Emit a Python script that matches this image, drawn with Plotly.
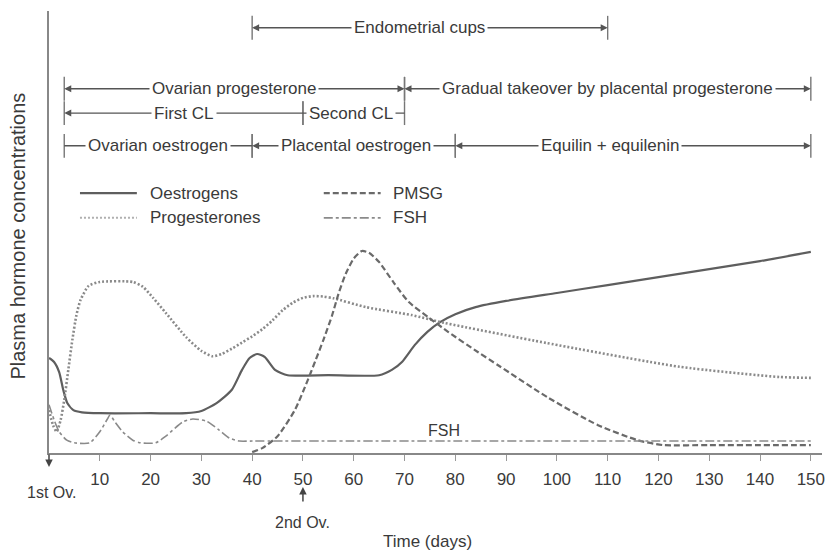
import plotly.graph_objects as go

# ---------------- data (arbitrary concentration units 0-100) ----------------
oest_days = [0, 1, 2, 2.8, 3.6, 4.8, 6.5, 10, 20, 27, 30, 33, 36, 38, 39.5, 41, 42.5, 44.5, 47,
             55, 65, 67.5, 69.5, 72, 74.5, 77, 80, 84, 90, 100, 110, 120, 130, 140, 150]
oest_vals = [21.5, 20.6, 18.3, 14.3, 11.3, 9.7, 9.2, 9.0, 9.0, 9.0, 9.5, 11.3, 14.3, 18.8, 21.5, 22.4,
             21.7, 18.8, 17.6, 17.6, 17.6, 18.8, 20.6, 24.4, 27.4, 29.6, 31.4, 33.0, 34.4, 36.2,
             38.0, 39.8, 41.6, 43.4, 45.5]

prog_days = [0, 0.8, 1.5, 2.3, 3.0, 3.8, 4.6, 5.4, 6.2, 7.8, 10, 16.5, 18.5, 20.5, 23, 27, 30, 32.2,
             34, 36, 38, 40, 42, 44, 46, 48, 50, 52, 54, 56, 62.4, 71.4, 78, 97.9, 124.2, 143.8, 150]
prog_vals = [9.7, 6.3, 4.8, 7.5, 12.0, 18.8, 25.6, 31.2, 34.6, 37.8, 38.7, 38.7, 37.6, 35.1, 31.7,
             26.2, 23.1, 21.9, 22.4, 23.6, 25.0, 26.4, 28.0, 30.0, 32.3, 34.0, 35.1, 35.5, 35.4,
             35.0, 33.0, 31.2, 29.4, 24.9, 19.5, 17.2, 17.0]

pmsg_days = [40, 42, 45, 48.4, 50.6, 52.5, 54, 55.7, 57, 58.4, 60, 61.6, 63, 65, 67.9, 70.8, 74.7,
             78.7, 84.5, 88.5, 98.3, 108.1, 115.9, 120.8, 130, 150]
pmsg_vals = [0.2, 1.1, 3.8, 9.7, 15.5, 21.0, 25.5, 31.0, 36.0, 40.5, 44.0, 45.7, 45.3, 43.2, 38.5,
             34.2, 30.7, 27.3, 22.8, 19.8, 12.5, 6.3, 2.9, 1.8, 1.8, 1.8]

fsh_days = [0, 1, 2, 3.5, 5, 8, 10, 11.5, 12, 13, 14.5, 16.5, 18, 21, 23, 26.3, 28.3, 31, 33.5,
            35.5, 37.5, 40, 150]
fsh_vals = [10.9, 7.5, 4.8, 2.9, 2.3, 2.3, 4.8, 7.7, 8.6, 7.0, 4.8, 2.9, 2.3, 2.3, 3.8, 7.0, 7.7,
            7.2, 5.2, 3.4, 2.7, 2.7, 2.7]

x_tick_vals = [10, 20, 30, 40, 50, 60, 70, 80, 90, 100, 110, 120, 130, 140, 150]
x_tick_text = [str(v) for v in x_tick_vals]

# phase spans above the curves
span_labels = ["Endometrial cups", "Ovarian progesterone", "Gradual takeover by placental progesterone",
               "First CL", "Second CL", "Ovarian oestrogen", "Placental oestrogen", "Equilin + equilenin"]
span_start = [40, 3, 70, 3, 50, 3, 40, 80]
span_end = [110, 70, 150, 50, 70, 40, 80, 150]
span_text_x = [73, 36.5, 110, 26.5, 59.5, 21.5, 60.5, 110.5]
span_row = [0, 1, 1, 2, 2, 3, 3, 3]
span_left_head = [True, True, True, True, False, False, True, True]
span_right_head = [True, True, True, False, False, False, False, True]

# ovulation markers
ov_labels = ["1st Ov.", "2nd Ov."]
ov_days = [0, 50]

# ---------------- styling ----------------
FONT = "Liberation Sans, Arial, sans-serif"
TXT = "#3a3a3a"
row_y = [96.2, 82.4, 76.9, 69.5]  # vertical positions of the span rows (y units)
tick_half = 2.7
PLOT_H = 442.0

fig = go.Figure()
series = [
    ("Oestrogens", oest_days, oest_vals, dict(color="#5e5e5e", width=2.2, dash="solid")),
    ("Progesterones", prog_days, prog_vals, dict(color="#8a8a8a", width=2.6, dash="2px,2px")),
    ("PMSG", pmsg_days, pmsg_vals, dict(color="#6a6a6a", width=2.2, dash="6px,3px")),
    ("FSH", fsh_days, fsh_vals, dict(color="#8a8a8a", width=1.6, dash="9px,3px,3px,3px")),
]
for name, xs, ys, ln in series:
    fig.add_trace(go.Scatter(x=xs, y=ys, mode="lines", name=name, showlegend=False,
                             line=dict(shape="spline", smoothing=0.6, **ln), hoverinfo="skip"))

shapes = []
annotations = []

# spans
for lab, s, e, tx, r, lh, rh in zip(span_labels, span_start, span_end, span_text_x, span_row,
                                     span_left_head, span_right_head):
    y = row_y[r]
    mid = (s + e) / 2
    for head, tail, has in ((s, mid, lh), (e, mid, rh)):
        annotations.append(dict(x=head, y=y, ax=tail, ay=y, xref="x", yref="y", axref="x", ayref="y",
                                text="", showarrow=True, arrowhead=2 if has else 0, arrowsize=1,
                                arrowwidth=1.4, arrowcolor="#555"))
    for xv in (s, e):
        shapes.append(dict(type="line", xref="x", yref="y", x0=xv, x1=xv, y0=y - tick_half,
                           y1=y + tick_half, line=dict(color="#777", width=1.4)))
    annotations.append(dict(x=tx, y=y, xref="x", yref="y", text=lab, showarrow=False,
                            bgcolor="white", borderpad=2,
                            font=dict(family=FONT, size=17, color=TXT)))

# manual legend
leg_items = [("Oestrogens", 6.1, 17.3, 58.8, series[0][3]),
             ("Progesterones", 6.1, 17.3, 53.2, dict(color="#b0b0b0", width=2, dash="2px,2px")),
             ("PMSG", 54.1, 65.3, 58.8, series[2][3]),
             ("FSH", 54.1, 65.3, 53.2, series[3][3])]
for lab, x0, x1, y, ln in leg_items:
    shapes.append(dict(type="line", xref="x", yref="y", x0=x0, x1=x1, y0=y, y1=y,
                       line=dict(color=ln["color"], width=ln["width"], dash=ln["dash"])))
    annotations.append(dict(x=x1 + 2.1, y=y, xref="x", yref="y", text=lab, showarrow=False,
                            xanchor="left", font=dict(family=FONT, size=17, color=TXT)))

# FSH label on curve
annotations.append(dict(x=77.7, y=5.0, xref="x", yref="y", text="FSH", showarrow=False,
                        font=dict(family=FONT, size=16, color=TXT)))

# ovulation markers (below the axis, paper coords)
ov_head_px = [14, 34]     # head distance below axis in px
ov_tail_off = [-14, 16]   # tail offset relative to head (px; +ve = below head)
ov_label_px = [40, 69]
ov_label_dx = [0.5, 0]
for lab, d, hp, to, lp, dx in zip(ov_labels, ov_days, ov_head_px, ov_tail_off, ov_label_px, ov_label_dx):
    annotations.append(dict(x=d, y=-hp / PLOT_H, xref="x", yref="paper", ax=0, ay=to,
                            axref="pixel", ayref="pixel", text="", showarrow=True, arrowhead=2,
                            arrowsize=1, arrowwidth=1.5, arrowcolor="#444"))
    annotations.append(dict(x=d + dx, y=-lp / PLOT_H, xref="x", yref="paper", text=lab,
                            showarrow=False, yanchor="middle",
                            font=dict(family=FONT, size=16, color=TXT)))

# axis titles
annotations.append(dict(x=0.49, y=-88 / PLOT_H, xref="paper", yref="paper", text="Time (days)",
                        showarrow=False, yanchor="middle", xanchor="center",
                        font=dict(family=FONT, size=17, color=TXT)))
annotations.append(dict(x=-31 / 776, y=0.49, xref="paper", yref="paper",
                        text="Plasma hormone concentrations", textangle=-90, showarrow=False,
                        xanchor="center", yanchor="middle",
                        font=dict(family=FONT, size=20, color=TXT)))

fig.update_layout(
    width=830, height=553,
    margin=dict(l=49, r=5, t=11, b=100),
    paper_bgcolor="white", plot_bgcolor="white",
    shapes=shapes, annotations=annotations,
    xaxis=dict(range=[0, 152.2], tickvals=x_tick_vals, ticktext=x_tick_text, showline=True,
               linecolor="#888", linewidth=2, ticks="outside", ticklen=6, tickwidth=1.4,
               tickcolor="#999", showgrid=False, zeroline=False, ticklabelstandoff=4,
               tickfont=dict(family=FONT, size=17, color=TXT)),
    yaxis=dict(range=[0, 100], showline=True, linecolor="#888", linewidth=2, ticks="",
               showticklabels=False, showgrid=False, zeroline=False),
)

fig.write_html("out.html")
